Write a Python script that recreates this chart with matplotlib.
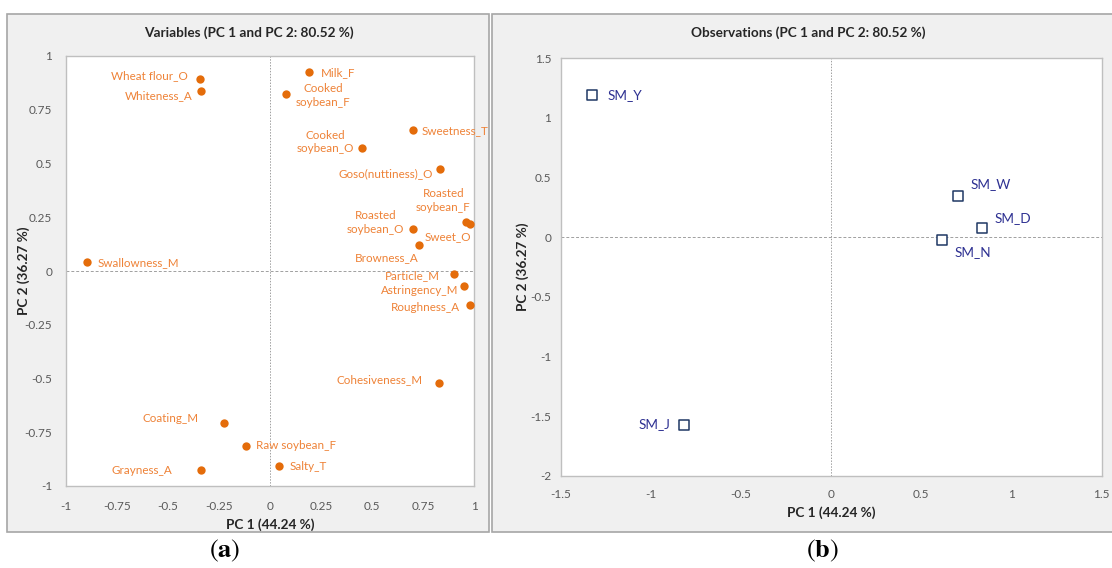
import matplotlib
matplotlib.use("Agg")
import matplotlib.pyplot as plt
from matplotlib.patches import Rectangle

plt.rcParams['font.family'] = ['Lato', 'DejaVu Sans']
plt.rcParams['mathtext.fontset'] = 'stix'

# ---------------- data ----------------
var_names = ["Wheat flour_O", "Whiteness_A", "Milk_F", "Cooked\nsoybean_F", "Sweetness_T",
             "Cooked\nsoybean_O", "Goso(nuttiness)_O", "Roasted\nsoybean_F", "Sweet_O",
             "Roasted\nsoybean_O", "Browness_A", "Swallowness_M", "Particle_M",
             "Astringency_M", "Roughness_A", "Cohesiveness_M", "Coating_M",
             "Raw soybean_F", "Salty_T", "Grayness_A"]
var_pc1 = [-0.342, -0.337, 0.193, 0.078, 0.703, 0.453, 0.832, 0.962, 0.978,
           0.703, 0.732, -0.898, 0.902, 0.950, 0.980, 0.830, -0.226, -0.120, 0.043, -0.337]
var_pc2 = [0.892, 0.838, 0.927, 0.821, 0.655, 0.572, 0.476, 0.230, 0.218,
           0.195, 0.121, 0.041, -0.014, -0.070, -0.158, -0.519, -0.708, -0.812, -0.908, -0.927]

obs_names = ["SM_Y", "SM_W", "SM_D", "SM_N", "SM_J"]
obs_pc1 = [-1.327, 0.701, 0.839, 0.614, -0.818]
obs_pc2 = [1.188, 0.346, 0.073, -0.022, -1.569]

left_ticks = [-1, -0.75, -0.5, -0.25, 0, 0.25, 0.5, 0.75, 1]
left_ticklabels = ["-1", "-0.75", "-0.5", "-0.25", "0", "0.25", "0.5", "0.75", "1"]
right_xticks = [-1.5, -1, -0.5, 0, 0.5, 1, 1.5]
right_xticklabels = ["-1.5", "-1", "-0.5", "0", "0.5", "1", "1.5"]
right_yticks = [-2, -1.5, -1, -0.5, 0, 0.5, 1, 1.5]
right_yticklabels = ["-2", "-1.5", "-1", "-0.5", "0", "0.5", "1", "1.5"]

title_left = "Variables (PC 1 and PC 2: 80.52 %)"
title_right = "Observations (PC 1 and PC 2: 80.52 %)"
xlabel = "PC 1 (44.24 %)"
ylabel = "PC 2 (36.27 %)"

# ---------------- label placement (pixels, y downwards; ha) ----------------
var_offsets = [(-12, -4, 'right'), (-9, 5, 'right'), (12, 1, 'left'), (37, 1, 'center'),
               (8, 0, 'left'), (-37, -6, 'center'), (-7, 5, 'right'), (-23, -21, 'center'),
               (2, 12, 'right'), (-38, -6.5, 'center'), (-33, 13, 'center'), (11, 0, 'left'),
               (-14.5, 2, 'right'), (-5, 4, 'right'), (-10, 3, 'right'), (-16.5, -3, 'right'),
               (-25.5, -5, 'right'), (10, 0, 'left'), (10.5, 0, 'left'), (-29.5, 0, 'right')]
obs_offsets = [(15, 0, 'left'), (12.6, -11.5, 'left'), (12, -10, 'left'), (12.4, 12.7, 'left'),
               (-13.3, 0, 'right')]

W, H = 1112, 568
fig = plt.figure(figsize=(W / 100, H / 100), dpi=100)
fig.patch.set_facecolor('white')

def fx(px):
    return px / W

def fy(py):
    return 1 - py / H

# panel backgrounds
for (x0, x1) in [(7, 489), (492, 1116)]:
    fig.patches.append(Rectangle((fx(x0), fy(532)), fx(x1 - x0), (532 - 14) / H,
                                 transform=fig.transFigure, facecolor='#F0F0F0',
                                 edgecolor='#A6A6A6', linewidth=1.2, zorder=-5))

ORANGE = '#E46C0A'
ORANGE_TXT = '#EE8237'
NAVY = '#1F3864'
NAVY_TXT = '#2E3192'
TICK_C = '#595959'

def style_axes(ax, xpad, ypad):
    ax.set_zorder(2)
    ax.set_facecolor('white')
    for s in ax.spines.values():
        s.set_color('#BFBFBF')
        s.set_linewidth(1.0)
    ax.tick_params(length=0, colors=TICK_C, labelsize=8.5)
    ax.tick_params(axis='x', pad=xpad)
    ax.tick_params(axis='y', pad=ypad)
    ax.axhline(0, color='#A0A0A0', lw=0.7, ls=(0, (3, 2)), zorder=1)
    ax.axvline(0, color='#A0A0A0', lw=0.7, ls=(0, (1.5, 1.5)), zorder=1)

# ---------- left: variables ----------
axL = fig.add_axes([fx(66), fy(486), fx(474 - 66), (486 - 56) / H])
style_axes(axL, 11, 10)
axL.set_xlim(-1, 1)
axL.set_ylim(-1, 1)
axL.set_xticks(left_ticks)
axL.set_xticklabels(left_ticklabels)
axL.set_yticks(left_ticks)
axL.set_yticklabels(left_ticklabels)
axL.scatter(var_pc1, var_pc2, s=36, color=ORANGE, zorder=3, linewidths=0)
for name, x, y, (dx, dy, ha) in zip(var_names, var_pc1, var_pc2, var_offsets):
    axL.annotate(name, (x, y), xytext=(dx, -dy), textcoords='offset pixels',
                 ha=ha, va='center', multialignment='center', color=ORANGE_TXT,
                 fontsize=8.4, linespacing=1.25)
axL.set_xlabel(xlabel, fontweight='bold', fontsize=9.8, color='#262626', labelpad=4)
axL.set_ylabel(ylabel, fontweight='bold', fontsize=9.8, color='#262626', labelpad=-4)

# ---------- right: observations ----------
axR = fig.add_axes([fx(561), fy(476), fx(1101.5 - 561), (476 - 58) / H])
style_axes(axR, 9, 7)
axR.set_xlim(-1.5, 1.5)
axR.set_ylim(-2, 1.5)
axR.set_xticks(right_xticks)
axR.set_xticklabels(right_xticklabels)
axR.set_yticks(right_yticks)
axR.set_yticklabels(right_yticklabels)
axR.scatter(obs_pc1, obs_pc2, s=42, marker='s', facecolors='white', edgecolors=NAVY,
            linewidths=1.1, zorder=3)
for name, x, y, (dx, dy, ha) in zip(obs_names, obs_pc1, obs_pc2, obs_offsets):
    axR.annotate(name, (x, y), xytext=(dx, -dy), textcoords='offset pixels',
                 ha=ha, va='center', color=NAVY_TXT, fontsize=9.8)
axR.set_xlabel(xlabel, fontweight='bold', fontsize=9.8, color='#262626', labelpad=5)
axR.set_ylabel(ylabel, fontweight='bold', fontsize=9.8, color='#262626', labelpad=1)

# titles
fig.text(fx(249), fy(33), title_left, ha='center', va='center', fontweight='bold',
         fontsize=9.8, color='#262626')
fig.text(fx(808), fy(33), title_right, ha='center', va='center', fontweight='bold',
         fontsize=9.8, color='#262626')

# sub-figure letters
fig.text(fx(225), fy(551), r"($\mathbf{a}$)", ha='center', va='center', fontsize=19,
         family='STIXGeneral', color='black')
fig.text(fx(822), fy(551), r"($\mathbf{b}$)", ha='center', va='center', fontsize=19,
         family='STIXGeneral', color='black')

fig.savefig('out.png', dpi=100, facecolor='white')
